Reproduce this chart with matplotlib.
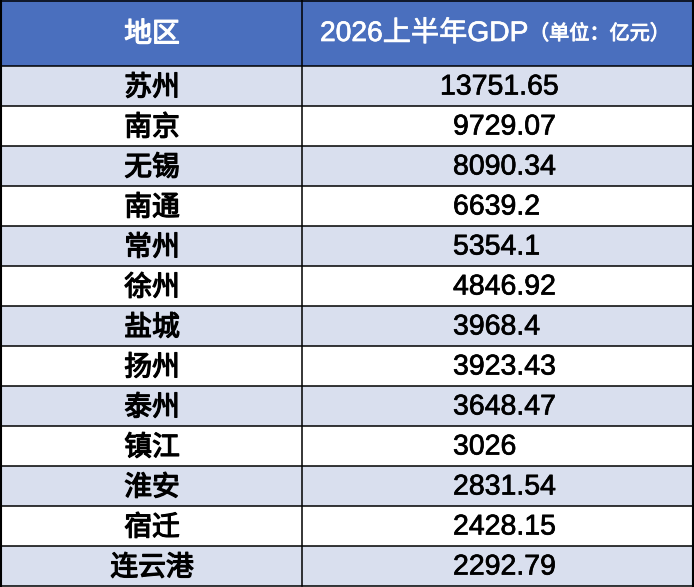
import matplotlib.pyplot as plt
import matplotlib.patheffects as pe
from matplotlib.patches import Rectangle

REGIONS = ['苏州', '南京', '无锡', '南通', '常州', '徐州', '盐城',
           '扬州', '泰州', '镇江', '淮安', '宿迁', '连云港']
GDP = ['13751.65', '9729.07', '8090.34', '6639.2', '5354.1', '4846.92',
       '3968.4', '3923.43', '3648.47', '3026', '2831.54', '2428.15',
       '2292.79']
HEADER_REGION = '地区'
HEADER_GDP = '2026上半年GDP'
HEADER_UNIT = '（单位：亿元）'

W, H = 694, 587
HEAD_H = 66
ROW_H = 40
COL_X = 302
HEAD_BLUE = '#4a6fbe'
ROW_SHADE = '#d9dfee'
CJK = ['Noto Sans CJK SC', 'DejaVu Sans']
LATIN = ['Liberation Sans', 'Noto Sans CJK SC']


def thick(color, lw):
    # fake a medium weight by stroking the regular glyphs
    return [pe.withStroke(linewidth=lw, foreground=color)]


def main():
    fig = plt.figure(figsize=(W / 100, H / 100), dpi=100)
    ax = fig.add_axes([0, 0, 1, 1])
    ax.set_xlim(0, W)
    ax.set_ylim(H, 0)
    ax.axis('off')

    # header
    ax.add_patch(Rectangle((0, 0), W, HEAD_H, color=HEAD_BLUE, lw=0))
    ax.text(152, HEAD_H / 2 + 1, HEADER_REGION, color='white', fontsize=20,
            family=CJK, ha='center', va='center',
            path_effects=thick('white', 0.9))
    ax.text(320, HEAD_H / 2 + 1, HEADER_GDP, color='white', fontsize=20.3,
            family=LATIN, ha='left', va='center',
            path_effects=thick('white', 0.5))
    ax.text(529, HEAD_H / 2 + 1, HEADER_UNIT, color='white', fontsize=14.5,
            family=CJK, ha='left', va='center',
            path_effects=thick('white', 0.7))

    # rows
    for i, (region, gdp) in enumerate(zip(REGIONS, GDP)):
        top = HEAD_H + i * ROW_H
        if i % 2 == 0:
            ax.add_patch(Rectangle((0, top), W, ROW_H, color=ROW_SHADE, lw=0))
        yc = top + ROW_H / 2 + 1.5
        ax.text(152, yc, region, color='black', fontsize=20, family=CJK,
                ha='center', va='center', path_effects=thick('black', 0.9))
        x0 = 440 if len(gdp) > 7 else 453
        ax.text(x0, yc, gdp, color='black', fontsize=20.5, family=LATIN,
                ha='left', va='center', path_effects=thick('black', 0.5))

    # grid lines
    bottom = HEAD_H + len(REGIONS) * ROW_H
    for i in range(len(REGIONS) + 1):
        y = HEAD_H + i * ROW_H
        ax.plot([0, W], [y, y], color='black', lw=1.1, solid_capstyle='butt')
    ax.plot([0, W], [0.8, 0.8], color='black', lw=1.1)
    ax.plot([1, 1], [0, bottom], color='black', lw=1.5)
    ax.plot([W - 1.2, W - 1.2], [0, bottom], color='black', lw=1.5)
    ax.plot([COL_X, COL_X], [0, bottom], color='black', lw=1.1)

    fig.savefig('out.png', dpi=100)


if __name__ == '__main__':
    main()
